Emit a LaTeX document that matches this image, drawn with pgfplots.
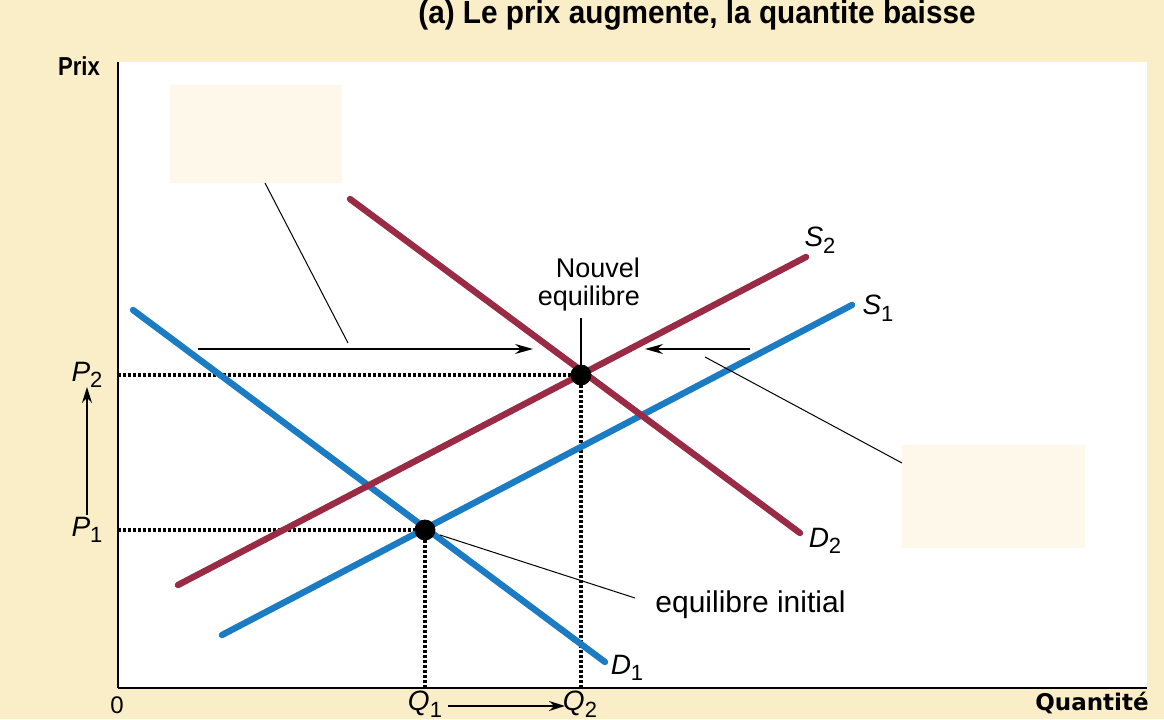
\documentclass[border=0pt]{standalone}
\usepackage{pgfplots}
\pgfplotsset{compat=1.18}
\usepackage{fontspec}
\setmainfont{Liberation Sans}
\newfontfamily\dejavu{DejaVu Sans}
\usetikzlibrary{arrows.meta}
\definecolor{cream}{RGB}{250,238,200}
\definecolor{boxfill}{RGB}{254,248,234}
\definecolor{sblue}{RGB}{27,124,196}
\definecolor{maroon}{RGB}{154,43,69}
\newcommand{\lab}[2]{\textit{#1}\raisebox{-0.45ex}{\fontsize{11}{11}\selectfont #2}}
\begin{document}
\begin{tikzpicture}
\useasboundingbox (-59pt,-15.5pt) rectangle (523pt,344pt);
\fill[cream] (-59pt,-15.5pt) rectangle (523pt,344pt);
\begin{axis}[
 scale only axis, width=514.5pt, height=313pt,
 xmin=0, xmax=1029, ymin=0, ymax=626,
 axis x line=bottom, axis y line=left,
 axis line style={-, line width=1pt, black},
 xtick=\empty, ytick=\empty,
 axis background/.style={fill=white},
 clip=false,
]
% shaded boxes
\fill[boxfill] (axis cs:52,505) rectangle (axis cs:224,603);
\fill[boxfill] (axis cs:784,140) rectangle (axis cs:967,243);
% dotted guides
\addplot[black, line width=1.8pt, dash pattern=on 1.5pt off 1pt] coordinates {(0,313) (463,313)};
\addplot[black, line width=1.8pt, dash pattern=on 1.5pt off 1pt] coordinates {(0,158) (307,158)};
\addplot[black, line width=1.8pt, dash pattern=on 1.5pt off 1pt] coordinates {(307,0) (307,158)};
\addplot[black, line width=1.8pt, dash pattern=on 1.5pt off 1pt] coordinates {(463,0) (463,313)};
% curves
\addplot[sblue, line width=3.2pt, line cap=round] coordinates {(15,378) (487,26)};   % D1
\addplot[sblue, line width=3.2pt, line cap=round] coordinates {(104,53) (734,383)};  % S1
\addplot[maroon, line width=3.2pt, line cap=round] coordinates {(60,103) (688,431)}; % S2
\addplot[maroon, line width=3.2pt, line cap=round] coordinates {(232,489) (682,155)};% D2
% equilibria
\addplot[only marks, mark=*, mark size=5pt, black] coordinates {(307,158) (463,313)};
% arrows and leaders
\draw[black, line width=0.75pt, -{Stealth[length=9pt,width=5pt]}] (axis cs:80,339) -- (axis cs:415,339);
\draw[black, line width=0.75pt, -{Stealth[length=9pt,width=5pt]}] (axis cs:632,339) -- (axis cs:527,339);
\draw[black, line width=0.5pt] (axis cs:147,505) -- (axis cs:230,345);
\draw[black, line width=0.5pt] (axis cs:587,331) -- (axis cs:784,225);
\draw[black, line width=0.75pt] (axis cs:463,370) -- (axis cs:463,313);
\draw[black, line width=0.5pt] (axis cs:322,153) -- (axis cs:517,90);
\draw[black, line width=0.75pt, -{Stealth[length=8pt,width=5pt]}] (axis cs:-31,173) -- (axis cs:-31,301);
\draw[black, line width=0.75pt, -{Stealth[length=8pt,width=5pt]}] (axis cs:330,-18) -- (axis cs:447,-18);
% labels
\node[font=\fontsize{14}{14}\selectfont] at (axis cs:-31,313) {\lab{P}{2}};
\node[font=\fontsize{14}{14}\selectfont] at (axis cs:-31,158) {\lab{P}{1}};
\node[font=\fontsize{14}{14}\selectfont] at (axis cs:307,-16) {\lab{Q}{1}};
\node[font=\fontsize{14}{14}\selectfont] at (axis cs:462,-16) {\lab{Q}{2}};
\node[font=\fontsize{14}{14}\selectfont] at (axis cs:702,448) {\lab{S}{2}};
\node[font=\fontsize{14}{14}\selectfont] at (axis cs:760,380) {\lab{S}{1}};
\node[font=\fontsize{14}{14}\selectfont] at (axis cs:707,147) {\lab{D}{2}};
\node[font=\fontsize{14}{14}\selectfont] at (axis cs:509,20) {\lab{D}{1}};
\node[font=\fontsize{12}{12}\selectfont] at (axis cs:-1,-17) {0};
\node[font=\fontsize{13.5}{15}\selectfont, align=right, anchor=east] at (axis cs:529,403) {Nouvel\\[-1pt]equilibre};
\node[font=\fontsize{15}{15}\selectfont, anchor=west, inner sep=0pt] at (axis cs:537,83) {equilibre initial};
\node[font=\dejavu\bfseries\fontsize{11.5}{11.5}\selectfont] at (axis cs:974,-15) {Quantité};
\node[font=\bfseries\fontsize{13}{13}\selectfont] at (axis cs:-39,622) {\scalebox{0.85}[1]{Prix}};
\node[font=\bfseries\fontsize{16}{16}\selectfont, anchor=base] at (axis cs:579,664) {\scalebox{0.93}[1]{(a) Le prix augmente, la quantite baisse}};
\end{axis}
\end{tikzpicture}
\end{document}
